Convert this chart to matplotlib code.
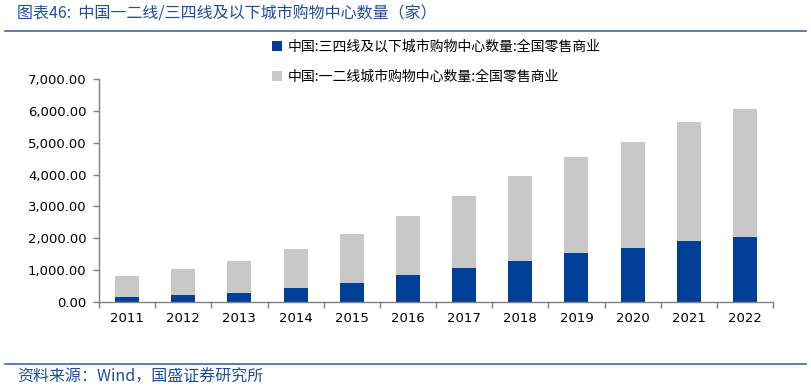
import matplotlib.pyplot as plt
import numpy as np
from matplotlib.ticker import FuncFormatter, FixedLocator

plt.rcParams['font.family'] = ['Noto Sans CJK SC', 'DejaVu Sans']

years = ['2011', '2012', '2013', '2014', '2015', '2016',
         '2017', '2018', '2019', '2020', '2021', '2022']
# third/fourth tier and below
tier34 = [160, 230, 292, 449, 606, 850, 1077, 1296, 1547, 1704, 1924, 2050]
# first/second tier
tier12 = [650, 806, 995, 1214, 1528, 1850, 2250, 2659, 3004, 3318, 3726, 4008]

lbl34 = '中国:三四线及以下城市购物中心数量:全国零售商业'
lbl12 = '中国:一二线城市购物中心数量:全国零售商业'

blue = '#003f98'
grey = '#c8c8c8'
head = '#1f4e9c'

fig = plt.figure(figsize=(8.11, 3.88), dpi=100)
ax = fig.add_axes([99/811, 1-302/388, (773-99)/811, (302-79)/388])

x = np.arange(len(years))
ax.bar(x, tier34, width=0.43, color=blue, label=lbl34, zorder=2)
ax.bar(x, tier12, width=0.43, bottom=tier34, color=grey, label=lbl12, zorder=2)

ax.set_xlim(-0.5, len(years) - 0.5)
ax.set_ylim(0, 7000)
ax.set_yticks(np.arange(0, 7001, 1000))
ax.yaxis.set_major_formatter(FuncFormatter(lambda v, p: '{:,.2f}'.format(v)))
ax.set_xticks(x)
ax.set_xticklabels(years)
ax.xaxis.set_minor_locator(FixedLocator(np.arange(-0.5, len(years), 1)))
ax.tick_params(axis='x', which='major', length=0, pad=7)
ax.tick_params(axis='x', which='minor', length=4, color='#808080', width=1)
ax.tick_params(axis='y', length=4, color='#808080', width=1, pad=5)
for t in ax.get_xticklabels() + ax.get_yticklabels():
    t.set_fontfamily('DejaVu Sans')
    t.set_fontsize(9.5)
    t.set_color('#000000')

for s in ['top', 'right']:
    ax.spines[s].set_visible(False)
for s in ['left', 'bottom']:
    ax.spines[s].set_color('#808080')
    ax.spines[s].set_linewidth(1)

leg = fig.legend(loc='upper left', bbox_to_anchor=(272/811, 1-40/388),
                 frameon=False, fontsize=10, handlelength=0.75,
                 handleheight=0.75, handletextpad=0.4, labelspacing=1.15,
                 borderpad=0, borderaxespad=0)

fig.text(17/811, 1-14/388, '图表46:  中国一二线/三四线及以下城市购物中心数量（家）',
         color=head, fontsize=11.5, va='center', ha='left', style='italic')
fig.add_artist(plt.Line2D([5/811, 806/811], [1-31/388, 1-31/388], color='#3a67ad', lw=1.2))
fig.add_artist(plt.Line2D([5/811, 806/811], [1-364/388, 1-364/388], color='#3a67ad', lw=1.2))
fig.text(17/811, 1-377/388, '资料来源：Wind，国盛证券研究所',
         color=head, fontsize=11.5, va='center', ha='left', style='italic')

fig.savefig('out.png', dpi=100)
